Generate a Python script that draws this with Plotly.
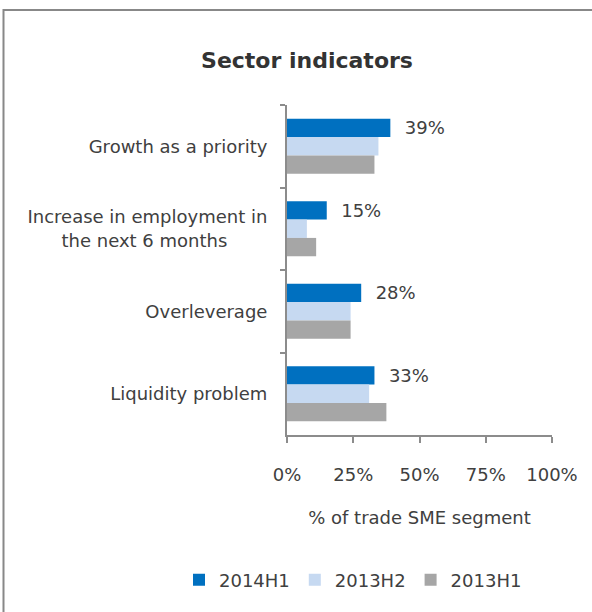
import plotly.graph_objects as go

# Indicator categories (top to bottom) and survey periods
NB = "\u00a0"
categories = [
    "Growth as a priority",
    "Increase in employment in<br>the next 6 months" + NB * 7,
    "Overleverage",
    "Liquidity problem",
]
series_names = ["2014H1", "2013H2", "2013H1"]

# Share of trade SME segment, in percent
values_2014h1 = [39, 15, 28, 33]
values_2013h2 = [34.5, 7.5, 24, 31]
values_2013h1 = [33, 11, 24, 37.5]

x_ticks = [0, 25, 50, 75, 100]
x_tick_labels = ["0%", "25%", "50%", "75%", "100%"]

colors = ["#0070C0", "#C6D9F1", "#A6A6A6"]
FONT = "DejaVu Sans"
TEXT = "#404040"
AXIS = "#8c8c8c"

fig = go.Figure()
for name, vals, col in zip(series_names, [values_2014h1, values_2013h2, values_2013h1], colors):
    show_label = name == "2014H1"
    fig.add_trace(go.Bar(
        name=name,
        y=categories,
        x=vals,
        orientation="h",
        marker=dict(color=col, line=dict(width=0)),
        text=[f"{NB}{NB}{v:g}%" for v in vals] if show_label else None,
        textposition="outside" if show_label else "none",
        textfont=dict(family=FONT, size=18, color=TEXT),
        constraintext="none",
        cliponaxis=False,
    ))

W, H = 592, 612
L, R, T, B = 287, 40, 105, 177
pw, ph = W - L - R, H - T - B

def px_to_paper_x(p):
    return (p - L) / pw

def px_to_paper_y(p):
    return (H - B - p) / ph

# Outer chart frame
fig.add_shape(
    type="rect", xref="paper", yref="paper",
    x0=px_to_paper_x(3.5), x1=px_to_paper_x(W + 10),
    y0=px_to_paper_y(H + 10), y1=px_to_paper_y(10),
    line=dict(color="#888888", width=2), fillcolor="rgba(0,0,0,0)",
    layer="below",
)

fig.update_layout(
    width=W, height=H,
    margin=dict(l=L, r=R, t=T, b=B),
    paper_bgcolor="white", plot_bgcolor="white",
    barmode="group", bargap=0.333, bargroupgap=0,
    font=dict(family=FONT, size=18, color=TEXT),
    title=dict(
        text="<b>Sector indicators</b>",
        font=dict(family=FONT, size=22, color="#333333"),
        x=307 / W, xref="container", xanchor="center",
        y=1 - 60 / H, yref="container", yanchor="middle",
    ),
    showlegend=True,
    legend=dict(
        orientation="h",
        xref="paper", yref="paper",
        x=px_to_paper_x(179), xanchor="left",
        y=px_to_paper_y(580), yanchor="middle",
        font=dict(family=FONT, size=18, color=TEXT),
        traceorder="normal",
        itemclick=False,
    ),
    xaxis=dict(
        range=[0, 100],
        tickvals=x_ticks, ticktext=x_tick_labels,
        showgrid=False, zeroline=False,
        showline=True, linecolor=AXIS, linewidth=2,
        ticks="outside", ticklen=6, tickcolor=AXIS, tickwidth=2,
        ticklabelstandoff=16,
        tickfont=dict(family=FONT, size=18, color=TEXT),
        title=dict(text="% of trade SME segment", standoff=28,
                   font=dict(family=FONT, size=18, color=TEXT)),
    ),
    yaxis=dict(
        autorange="reversed",
        showgrid=False, zeroline=False,
        showline=True, linecolor=AXIS, linewidth=2,
        ticks="outside", ticklen=5, tickcolor=AXIS, tickwidth=2,
        tickson="boundaries",
        ticklabelstandoff=14,
        tickfont=dict(family=FONT, size=18, color=TEXT),
    ),
)

fig.write_html("out.html")
